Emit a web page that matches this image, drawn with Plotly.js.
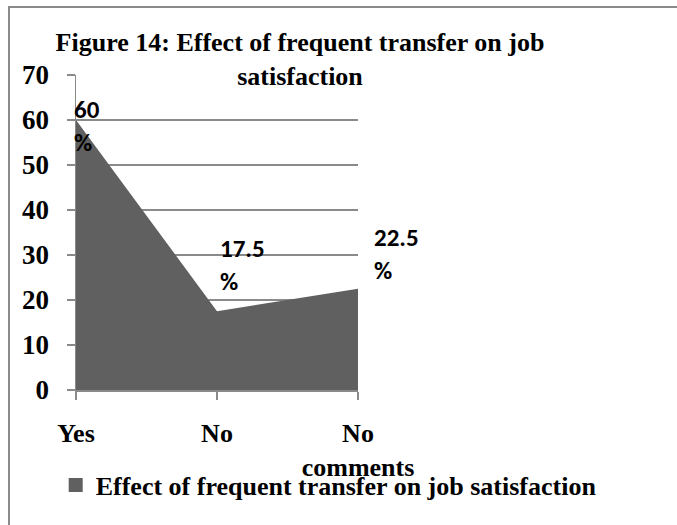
<!DOCTYPE html>
<html>
<head>
<meta charset="utf-8">
<script src="https://cdn.plot.ly/plotly-3.0.1.min.js"></script>
<style>
  html, body { margin: 0; padding: 0; background: #ffffff; }
  #chart { position: absolute; left: 0; top: 0; width: 677px; height: 525px; }
  #frame {
    position: absolute; left: 8px; top: 6px; right: 0; bottom: 0;
    border-top: 2px solid #8a8a8a; border-left: 2px solid #8a8a8a;
    pointer-events: none;
  }
</style>
</head>
<body>
<div id="chart"></div>
<div id="frame"></div>
<script>
// Survey responses: does frequent transfer affect job satisfaction?
const categories = ['Yes', 'No', 'No comments'];
const tickLabels = ['Yes', 'No', 'No<br>comments'];
const percentages = [60, 17.5, 22.5];
const seriesName = 'Effect of frequent transfer on job satisfaction';
const yTickValues = [0, 10, 20, 30, 40, 50, 60, 70];

const serif = '"Times New Roman", "Liberation Serif", serif';
const sans = 'Carlito, Calibri, Lato, "Liberation Sans", sans-serif';
const areaColor = '#606060';
const gridColor = '#8a8a8a';

// offsets of each data label from its point, in pixels
const labelShift = [
  { x: -4, y: -6 },
  { x: 1, y: 46 },
  { x: 14, y: 35 }
];

const area = {
  type: 'scatter',
  x: categories,
  y: percentages,
  mode: 'lines',
  fill: 'tozeroy',
  fillcolor: areaColor,
  line: { color: areaColor, width: 0 },
  showlegend: false,
  hoverinfo: 'x+y'
};

// legend swatch for the series
const legendKey = {
  type: 'scatter',
  x: [null],
  y: [null],
  mode: 'markers',
  name: seriesName,
  marker: { symbol: 'square', size: 14, color: areaColor },
  showlegend: true
};

const annotations = categories.map((c, i) => ({
  x: c,
  y: percentages[i],
  xref: 'x',
  yref: 'y',
  text: percentages[i] + '<br>%',
  showarrow: false,
  xanchor: 'left',
  yanchor: 'middle',
  align: 'left',
  xshift: labelShift[i].x,
  yshift: labelShift[i].y,
  font: { family: sans, size: 25, color: '#000000', weight: 'bold' }
}));

const layout = {
  width: 677,
  height: 525,
  margin: { l: 76, r: 319, t: 75, b: 135 },
  paper_bgcolor: '#ffffff',
  plot_bgcolor: '#ffffff',
  title: {
    text: 'Figure 14: Effect of frequent transfer on job<br>satisfaction',
    font: { family: serif, size: 26, color: '#000000', weight: 'bold' },
    x: 300 / 677,
    xref: 'container',
    xanchor: 'center',
    y: 1 - 51 / 525,
    yref: 'container',
    yanchor: 'top'
  },
  xaxis: {
    type: 'category',
    range: [0, 2],
    tickvals: categories,
    ticktext: tickLabels,
    showgrid: false,
    zeroline: false,
    showline: true,
    linecolor: gridColor,
    linewidth: 1.5,
    ticks: 'outside',
    ticklen: 8,
    tickwidth: 1.5,
    tickcolor: gridColor,
    ticklabelstandoff: 11,
    tickfont: { family: serif, size: 26, color: '#000000', weight: 'bold' },
    fixedrange: true
  },
  yaxis: {
    range: [0, 70],
    tickvals: yTickValues,
    showgrid: true,
    gridcolor: gridColor,
    gridwidth: 1.5,
    zeroline: false,
    showline: true,
    linecolor: gridColor,
    linewidth: 1.5,
    ticks: 'outside',
    ticklen: 8,
    tickwidth: 1.5,
    tickcolor: gridColor,
    ticklabelstandoff: 12,
    tickfont: { family: serif, size: 27, color: '#000000', weight: 'bold' },
    fixedrange: true
  },
  showlegend: true,
  legend: {
    orientation: 'h',
    x: -0.072,
    xanchor: 'left',
    y: -0.227,
    yanchor: 'top',
    bgcolor: 'rgba(0,0,0,0)',
    font: { family: serif, size: 26, color: '#000000', weight: 'bold' },
    itemwidth: 30
  },
  annotations: annotations
};

Plotly.newPlot('chart', [area, legendKey], layout, { displayModeBar: false, staticPlot: true });
</script>
</body>
</html>
